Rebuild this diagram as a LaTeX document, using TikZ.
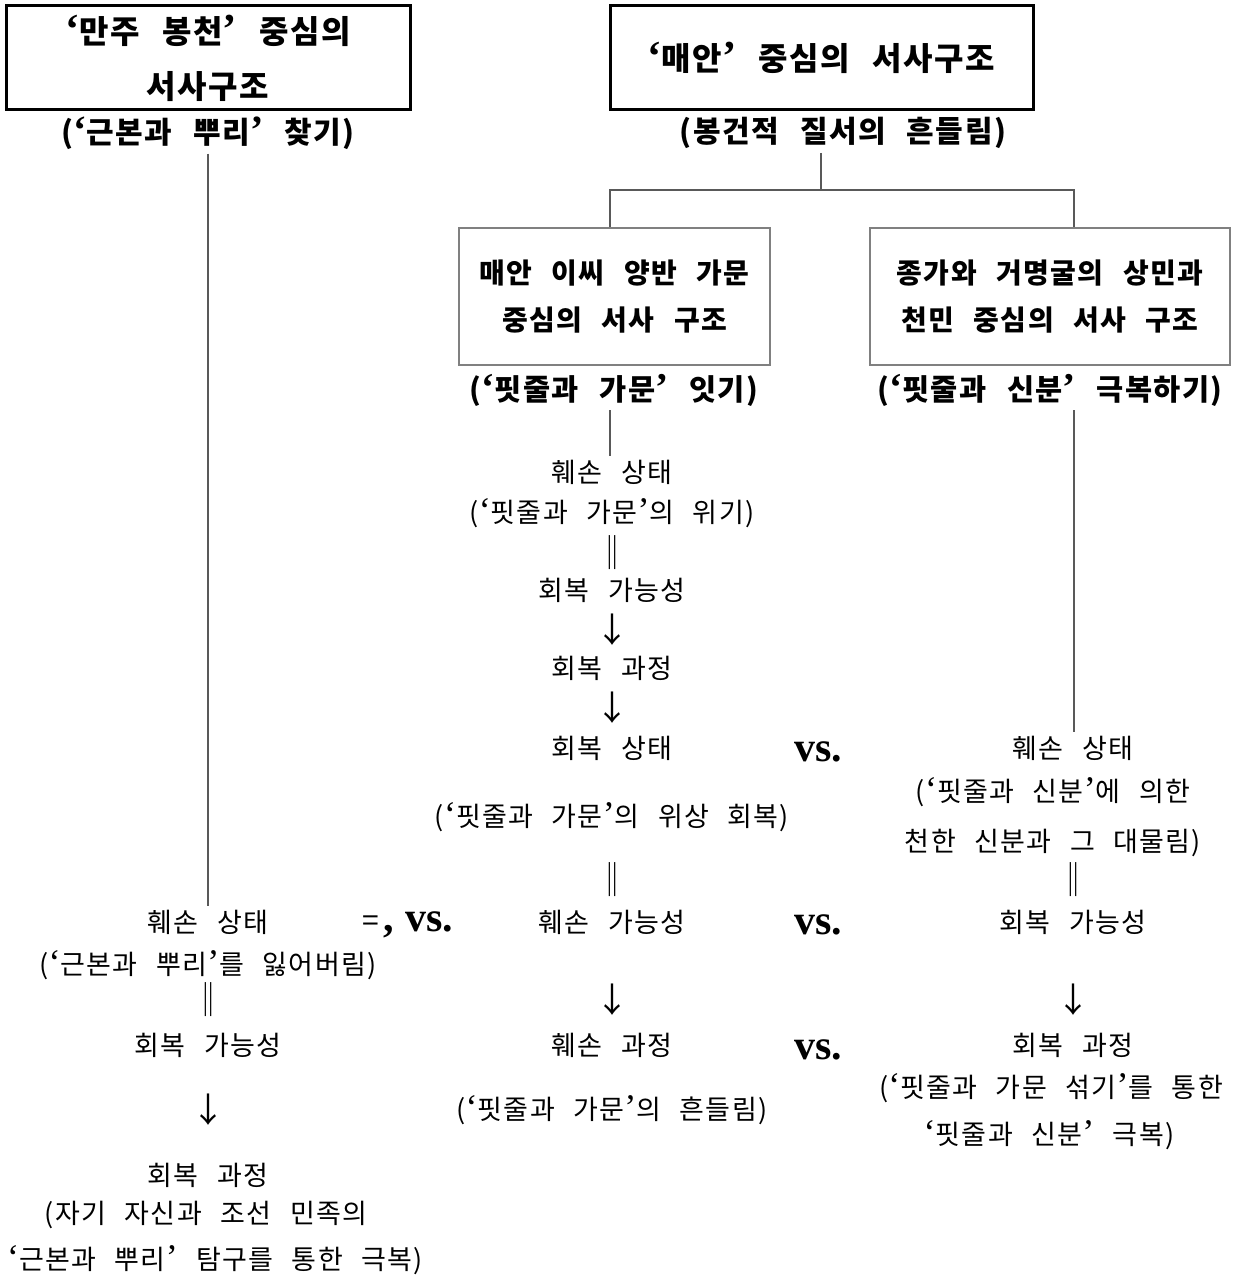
\documentclass[tikz,border=0pt]{standalone}
\usepackage{fontspec}
\setmainfont{Noto Sans CJK KR}[LetterSpace=5,WordSpace=2.5]
\newfontfamily\vsfont{Liberation Serif}
\makeatletter
\newcommand\qsize{\fontsize{\the\dimexpr\f@size pt*4/3\relax}{0pt}\selectfont}
\makeatother
\newcommand\oq{{\vsfont\qsize ‘}}
\newcommand\cq{{\vsfont\qsize ’}}
\begin{document}
\begin{tikzpicture}[x=1pt,y=-1pt,
 every node/.style={inner sep=4pt},
 body/.style={font=\fontsize{27}{36}\selectfont},
 sym/.style={font=\fontsize{34}{36}\selectfont},
 sub/.style={font=\bfseries\fontsize{30}{36}\selectfont},
 big/.style={draw,line width=3pt,minimum height=104pt,align=center,font=\bfseries\fontsize{32}{55}\selectfont},
 mid/.style={draw=black!50,line width=1.2pt,minimum height=137pt,align=center,font=\bfseries\fontsize{28}{47}\selectfont},
 conn/.style={draw=black!65,line width=1.3pt},
 vs/.style={font=\vsfont\bfseries\fontsize{42}{42}\selectfont}]
\useasboundingbox (0,0) rectangle (1244,1279);

% top boxes
\node[big,minimum width=404pt] (t1) at (208,58) {\oq 만주 봉천\cq{} 중심의\\서사구조};
\node[big,minimum width=423pt] (t2) at (821.5,58) {\oq 매안\cq{} 중심의 서사구조};
\node[sub] (s1) at (208,133) {(\oq 근본과 뿌리\cq{} 찾기)};
\node[sub] (s2) at (843,133) {(봉건적 질서의 흔들림)};

% second-level boxes
\node[mid,minimum width=311pt] (b3) at (614.5,296.5) {매안 이씨 양반 가문\\중심의 서사 구조};
\node[mid,minimum width=360pt] (b4) at (1050,296.5) {종가와 거명굴의 상민과\\천민 중심의 서사 구조};
\node[sub,font=\bfseries\fontsize{29.5}{36}\selectfont] (s3) at (614,390) {(\oq 핏줄과 가문\cq{} 잇기)};
\node[sub,font=\bfseries\fontsize{29.5}{36}\selectfont] (s4) at (1050,390) {(\oq 핏줄과 신분\cq{} 극복하기)};

% middle column
\node[body] (m1) at (612,472) {훼손 상태};
\node[body] (m2) at (612,513) {(\oq 핏줄과 가문\cq 의 위기)};
\node[sym] (m3) at (612,553) {‖};
\node[body] (m4) at (612,590) {회복 가능성};
\node[sym] (m5) at (612,630) {↓};
\node[body] (m6) at (612,668) {회복 과정};
\node[sym] (m7) at (612,708) {↓};
\node[body] (m8) at (612,748) {회복 상태};
\node[body] (m9) at (612,817) {(\oq 핏줄과 가문\cq 의 위상 회복)};
\node[sym] (m10) at (612,880) {‖};
\node[body] (m11) at (612,922) {훼손 가능성};
\node[sym] (m12) at (612,1000) {↓};
\node[body] (m13) at (612,1045) {훼손 과정};
\node[body] (m14) at (612,1110) {(\oq 핏줄과 가문\cq 의 흔들림)};

% right column
\node[body] (r1) at (1073,748) {훼손 상태};
\node[body] (r2) at (1053,792) {(\oq 핏줄과 신분\cq 에 의한};
\node[body] (r3) at (1053,843) {천한 신분과 그 대물림)};
\node[sym] (r4) at (1073,880) {‖};
\node[body] (r5) at (1073,922) {회복 가능성};
\node[sym] (r6) at (1073,1000) {↓};
\node[body] (r7) at (1073,1045) {회복 과정};
\node[body] (r8) at (1051,1088) {(\oq 핏줄과 가문 섞기\cq 를 통한};
\node[body] (r9) at (1049,1135) {\oq 핏줄과 신분\cq{} 극복)};

% left column
\node[body] (l1) at (208,922) {훼손 상태};
\node[body] (l2) at (208,965) {(\oq 근본과 뿌리\cq 를 잃어버림)};
\node[sym] (l3) at (208,1000) {‖};
\node[body] (l4) at (208,1045) {회복 가능성};
\node[sym] (l5) at (208,1110) {↓};
\node[body] (l6) at (208,1175) {회복 과정};
\node[body] (l7) at (206,1215) {(자기 자신과 조선 민족의};
\node[body] (l8) at (215,1260) {\oq 근본과 뿌리\cq{} 탐구를 통한 극복)};

% vs labels
\node[vs] (v1) at (818,752) {vs.};
\node[vs] (v2) at (818,925) {vs.};
\node[vs] (v3) at (818,1050) {vs.};
\node[vs] (v0) at (408,925) {{\fontspec{Noto Sans CJK KR}\mdseries\fontsize{30}{30}\selectfont =}\kern4pt,\kern12pt vs.};

% connectors
\coordinate (j1) at (821,190);
\coordinate (jl) at (610,190);
\coordinate (jr) at (1074,190);
\draw[conn] (s1) -- (l1);
\draw[conn] (j1 |- s2.south) -- (j1);
\draw[conn] (jl |- b3.north) -- (jl) -- (jr) -- (jr |- b4.north);
\draw[conn] (jl |- s3.south) -- (jl |- m1.north);
\draw[conn] (jr |- s4.south) -- (jr |- r1.north);
\end{tikzpicture}
\end{document}
